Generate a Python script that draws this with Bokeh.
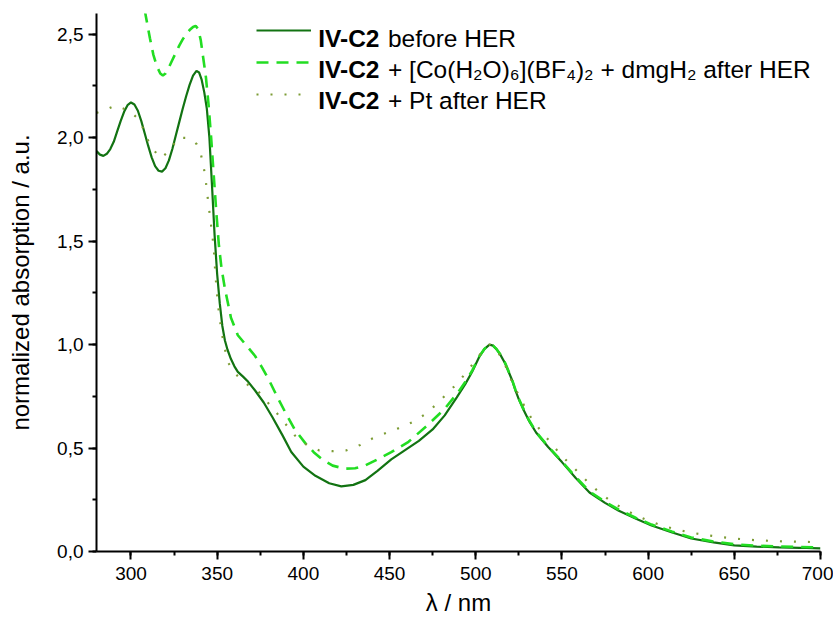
from bokeh.plotting import figure
from bokeh.models import (SingleIntervalTicker, CustomJSTickFormatter, Legend, LegendItem, Label,
                          Range1d)
from bokeh.embed import file_html
from bokeh.resources import INLINE

# ---------------- data ----------------
before_x = [280, 282, 284, 286, 288, 290, 292, 294, 296, 298, 300, 302, 304, 306, 308, 310, 312, 314,
            316, 318, 320, 322, 324, 326, 328, 330, 332, 334, 336, 338, 339.5, 341, 342.5, 344, 345.5,
            347, 348.5, 350, 351.5, 353, 354.5, 356, 358, 360, 362, 365, 368, 372, 377, 382, 388, 393,
            400, 407, 415, 422, 429, 436, 443, 451, 459, 467, 475, 482, 489, 494, 498, 502, 505, 508,
            510, 512, 514, 517, 519, 521, 523, 525, 528, 531, 535, 542, 550, 558, 566, 575, 583, 593,
            602, 614, 625, 638, 650, 663, 676, 688, 700]
before_y = [1.935, 1.918, 1.912, 1.922, 1.945, 1.98, 2.03, 2.08, 2.125, 2.157, 2.17, 2.16, 2.13,
            2.08, 2.02, 1.96, 1.905, 1.862, 1.84, 1.836, 1.852, 1.89, 1.945, 2.01, 2.075, 2.14, 2.2,
            2.255, 2.3, 2.323, 2.315, 2.28, 2.22, 2.14, 2.0, 1.77, 1.53, 1.34, 1.2, 1.09, 1.02, 0.975,
            0.93, 0.895, 0.868, 0.845, 0.82, 0.778, 0.72, 0.65, 0.56, 0.481, 0.41, 0.366, 0.33, 0.315,
            0.322, 0.345, 0.39, 0.445, 0.49, 0.535, 0.59, 0.658, 0.745, 0.81, 0.87, 0.94, 0.978, 1.0,
            0.995, 0.978, 0.955, 0.91, 0.87, 0.83, 0.78, 0.735, 0.68, 0.63, 0.575, 0.505, 0.432,
            0.355, 0.285, 0.235, 0.197, 0.158, 0.126, 0.092, 0.063, 0.044, 0.03, 0.024, 0.02, 0.018,
            0.015]

co_x = [303, 305, 307, 309, 311, 313, 315, 317, 318.5, 320, 322, 324, 326, 328, 330, 332, 334, 336,
        337.5, 339, 340.5, 342, 343.5, 345, 346.5, 348, 349.5, 351, 352.5, 354.5, 358, 362, 367, 372,
        376, 380, 385, 390, 395, 401, 406, 411, 417, 424, 430, 436, 443, 451, 461, 472, 482, 490,
        494, 498, 502, 505, 508, 510, 512, 514, 517, 519, 521, 523, 525, 528, 531, 535, 542, 550,
        558, 566, 575, 583, 593, 602, 614, 625, 638, 650, 663, 676, 688, 700]
co_y = [2.9, 2.78, 2.66, 2.57, 2.48, 2.40, 2.345, 2.31, 2.30, 2.31, 2.34, 2.375, 2.41, 2.445, 2.475,
        2.50, 2.52, 2.535, 2.54, 2.525, 2.47, 2.38, 2.29, 2.16, 2.0, 1.82, 1.64, 1.48, 1.37, 1.27,
        1.13, 1.045, 0.995, 0.945, 0.89, 0.83, 0.745, 0.665, 0.59, 0.525, 0.48, 0.445, 0.415, 0.40,
        0.402, 0.416, 0.445, 0.48, 0.53, 0.61, 0.69, 0.772, 0.82, 0.875, 0.942, 0.979, 1.0, 0.995,
        0.979, 0.956, 0.912, 0.872, 0.832, 0.782, 0.738, 0.683, 0.633, 0.578, 0.508, 0.435, 0.36,
        0.29, 0.24, 0.202, 0.162, 0.13, 0.096, 0.068, 0.048, 0.035, 0.028, 0.024, 0.022, 0.02]

pt_x = [280, 284, 291, 299, 305, 311, 317, 323, 327, 334, 338, 340, 341.5, 343, 344, 345, 346, 347,
        348, 349, 350.5, 352.5, 356, 361, 367, 374, 384, 395, 402, 409, 417, 425, 433, 440, 448, 455,
        464, 471, 477, 483, 489, 495, 500, 505, 508, 512, 515, 518, 521, 525, 529, 533, 539, 544, 549,
        555, 561, 567, 573, 579, 586, 593, 601, 609, 617, 625, 633, 642, 650, 658, 666, 675, 687, 700]
pt_y = [2.12, 2.13, 2.155, 2.13, 2.085, 1.965, 1.90, 1.94, 2.0, 1.998, 1.97, 1.94, 1.885, 1.82,
        1.747, 1.675, 1.61, 1.538, 1.473, 1.336, 1.19, 1.062, 0.917, 0.855, 0.81, 0.772, 0.675,
        0.561, 0.515, 0.489, 0.485, 0.489, 0.515, 0.546, 0.573, 0.595, 0.628, 0.665, 0.71, 0.76,
        0.81, 0.87, 0.925, 0.98, 1.0, 0.975, 0.935, 0.884, 0.82, 0.755, 0.69, 0.634, 0.57, 0.521,
        0.47, 0.42, 0.37, 0.319, 0.278, 0.239, 0.205, 0.174, 0.146, 0.123, 0.105, 0.091, 0.08,
        0.07, 0.063, 0.057, 0.053, 0.05, 0.047, 0.045]

x_label = "λ / nm"
y_label = "normalized absorption / a.u."
legend_bold = ["IV-C2", "IV-C2", "IV-C2"]
legend_rest = ["\u00a0before HER",
               "\u00a0+ [Co(H\u2082O)\u2086](BF\u2084)\u2082 + dmgH\u2082 after HER",
               "\u00a0+ Pt after HER"]

FONT = "Liberation Sans"
LEG_SIZE = 24.5
C_BEFORE = "#127312"
C_CO = "#22dd22"
C_PT = "#7c9c34"

p = figure(width=833, height=620, output_backend="svg", toolbar_location=None,
           x_range=Range1d(280, 700), y_range=Range1d(0, 2.6),
           min_border_left=96, min_border_right=13, min_border_top=13, min_border_bottom=69)
p.outline_line_color = None
p.xgrid.visible = False
p.ygrid.visible = False

r1 = p.line(before_x, before_y, line_color=C_BEFORE, line_width=2.2)
r2 = p.line(co_x, co_y, line_color=C_CO, line_width=2.6, line_dash="12 8")
r3 = p.line(pt_x, pt_y, line_color=C_PT, line_width=2.2, line_dash="2 12")

for ax in (p.xaxis[0], p.yaxis[0]):
    ax.axis_line_width = 2
    ax.axis_line_color = "black"
    ax.major_tick_line_width = 2
    ax.minor_tick_line_width = 2
    ax.major_tick_out = 8
    ax.major_tick_in = 0
    ax.minor_tick_out = 4
    ax.minor_tick_in = 0
    ax.major_label_text_font = FONT
    ax.major_label_text_font_size = "19px"
    ax.major_label_text_color = "black"
    ax.axis_label_text_font = FONT
    ax.axis_label_text_font_size = "24px"
    ax.axis_label_text_font_style = "normal"
    ax.axis_label_text_color = "black"
    ax.major_label_standoff = 5

p.xaxis[0].major_label_standoff = 7
p.xaxis[0].ticker = SingleIntervalTicker(interval=50, num_minor_ticks=2)
p.yaxis[0].ticker = SingleIntervalTicker(interval=0.5, num_minor_ticks=2)
p.yaxis[0].formatter = CustomJSTickFormatter(code="return tick.toFixed(1).replace('.', ',');")
p.xaxis[0].axis_label = x_label
p.yaxis[0].axis_label = y_label
p.xaxis[0].axis_label_standoff = 6
p.yaxis[0].axis_label_standoff = 20

legend = Legend(items=[LegendItem(label="\u00a0", renderers=[r]) for r in (r1, r2, r3)],
                location=(160, 443), padding=0, margin=0, spacing=4,
                glyph_width=55, glyph_height=28, label_height=28, label_width=1,
                label_standoff=0, label_text_font_size="1px",
                border_line_alpha=0, background_fill_alpha=0)
p.add_layout(legend)

bold_width = round(2.556 * LEG_SIZE)
baselines = [2.479, 2.330, 2.181]
for b, rest, yb in zip(legend_bold, legend_rest, baselines):
    p.add_layout(Label(x=408.6, y=yb, text=b, text_font=FONT, text_font_size=f"{LEG_SIZE}px",
                       text_font_style="bold", text_baseline="alphabetic", text_color="black"))
    p.add_layout(Label(x=408.6, y=yb, x_offset=bold_width, text=rest, text_font=FONT,
                       text_font_size=f"{LEG_SIZE}px", text_baseline="alphabetic",
                       text_color="black"))

open("out.html", "w").write(file_html(p, INLINE))
